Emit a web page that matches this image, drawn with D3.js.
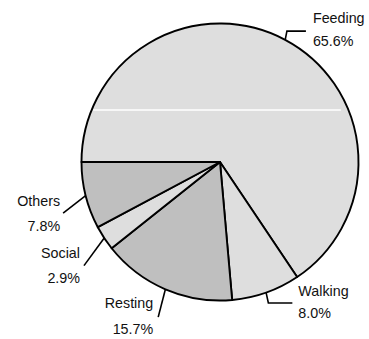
<!DOCTYPE html>
<html>
<head>
<meta charset="utf-8">
<script src="https://cdn.jsdelivr.net/npm/d3@7/dist/d3.min.js"></script>
<style>
  html, body { margin: 0; padding: 0; background: #fff; }
  svg { display: block; }
  text { font-family: "Liberation Sans", Arial, Helvetica, sans-serif; font-size: 14.3px; fill: #111; }
</style>
</head>
<body>
<svg id="chart" width="369" height="339"></svg>
<script>
// ---- data ----
const categories = ["Feeding", "Walking", "Resting", "Social", "Others"];
const values = [65.6, 8.0, 15.7, 2.9, 7.8];
const valueLabels = ["65.6%", "8.0%", "15.7%", "2.9%", "7.8%"];
const fills = ["#dedede", "#dedede", "#bfbfbf", "#dedede", "#bfbfbf"];

// ---- layout (label leader geometry, not data) ----
// da: elbow angle offset (deg), r: elbow radius, run: horizontal run,
// dx/dy: text offset from leader end, gap: line gap
const labelLayout = [
  { da: -1,   r: 147, run: 19, dx: 7,  dy: -8, gap: 23 },
  { da: 0.5,  r: 149, run: 24, dx: 6,  dy: -7, gap: 22 },
  { da: -1.5, r: 167, run: 0,  dx: -5, dy: -9, gap: 26 },
  { da: -4,   r: 171, run: 0,  dx: -4, dy: -8, gap: 25 },
  { da: -4,   r: 165, run: 0,  dx: -3, dy: -7, gap: 25 }
];

const cx = 220, cy = 162, R = 138.5;

const svg = d3.select("#chart");
const g = svg.append("g").attr("transform", `translate(${cx},${cy})`);

const data = categories.map((c, i) => ({ name: c, value: values[i], label: valueLabels[i], fill: fills[i] }));

const pie = d3.pie().sort(null).value(d => d.value)
  .startAngle(-Math.PI / 2).endAngle(1.5 * Math.PI);
const arcs = pie(data);
const arc = d3.arc().innerRadius(0).outerRadius(R);

g.selectAll("path.slice")
  .data(arcs)
  .join("path")
  .attr("class", "slice")
  .attr("d", arc)
  .attr("fill", d => d.data.fill)
  .attr("stroke", "#000")
  .attr("stroke-width", 1.9)
  .attr("stroke-linejoin", "round");

// thin white artifact line across the large slice
const yLine = -52;
const xHalf = Math.sqrt(R * R - yLine * yLine) - 1.5;
g.append("line")
  .attr("x1", -xHalf).attr("x2", xHalf - 6)
  .attr("y1", yLine).attr("y2", yLine)
  .attr("stroke", "#fff").attr("stroke-width", 1.5);

function pt(angle, r) { return [Math.sin(angle) * r, -Math.cos(angle) * r]; }

arcs.forEach((a, i) => {
  const L = labelLayout[i];
  const mid = (a.startAngle + a.endAngle) / 2;
  const p0 = pt(mid, R);
  const p1 = pt(mid + L.da * Math.PI / 180, L.r);
  const p2 = [p1[0] + L.run, p1[1]];
  g.append("polyline")
    .attr("points", [p0, p1, p2].map(p => p.join(",")).join(" "))
    .attr("fill", "none").attr("stroke", "#000").attr("stroke-width", 1.6);

  const anchor = L.run > 0 ? "start" : "end";
  const tx = p2[0] + L.dx;
  const ty = p2[1] + L.dy;
  const t = g.append("text").attr("text-anchor", anchor);
  t.append("tspan").attr("x", tx).attr("y", ty).text(a.data.name);
  t.append("tspan").attr("x", tx).attr("y", ty + L.gap).text(a.data.label);
});
</script>
</body>
</html>
